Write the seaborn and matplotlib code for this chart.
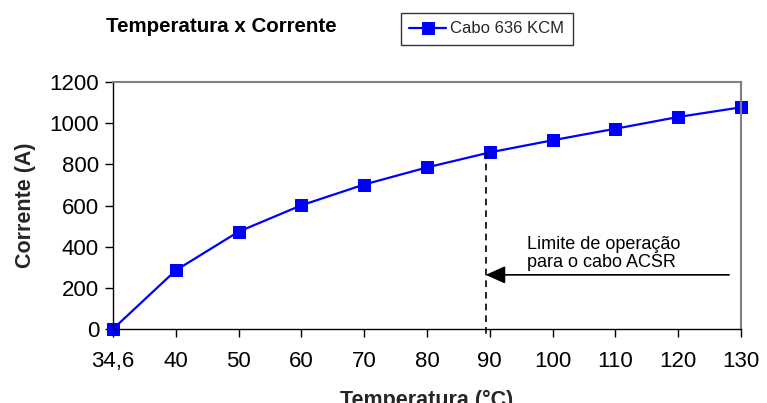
import numpy as np
import pandas as pd
import matplotlib
matplotlib.use("Agg")
import matplotlib.pyplot as plt
import seaborn as sns

temps = ["34,6", "40", "50", "60", "70", "80", "90", "100", "110", "120", "130"]
currents = [0, 285, 473, 601, 702, 785, 858, 917, 973, 1030, 1077]
series_name = "Cabo 636 KCM"
limit_temp = "90"
limit_current_label = 263

sns.set_theme(style="white")
plt.rcParams['font.family'] = ['Liberation Sans', 'DejaVu Sans']

fig = plt.figure(figsize=(7.67, 4.03), dpi=100)
ax = fig.add_axes([113/767, 1-329/403, (741-113)/767, (329-82)/403])

df = pd.DataFrame({"pos": np.arange(len(temps)), "corrente": currents})
sns.lineplot(data=df, x="pos", y="corrente", ax=ax, color="#0000FF", linewidth=1.6,
             marker="s", markersize=8.5, markeredgecolor="#0000FF",
             label=series_name, clip_on=False)

ax.set_xlim(0, len(temps) - 1)
ax.set_ylim(0, 1200)
ax.set_xticks(np.arange(len(temps)))
ax.set_xticklabels(temps)
ax.set_yticks(np.arange(0, 1201, 200))
ax.tick_params(axis="both", which="both", direction="out", length=6, width=1,
               color="black", labelsize=16, labelcolor="black", bottom=True, left=True)
ax.tick_params(axis="x", pad=10)
ax.tick_params(axis="y", pad=4)
for s in ["left", "bottom"]:
    ax.spines[s].set_color("black")
    ax.spines[s].set_linewidth(1.0)
for s in ["top", "right"]:
    ax.spines[s].set_color("#808080")
    ax.spines[s].set_linewidth(1.5)

ax.set_xlabel("Temperatura (°C)", fontsize=15.5, fontweight="bold", labelpad=13)
ax.set_ylabel("Corrente (A)", fontsize=15.5, fontweight="bold", labelpad=10)

# operating limit annotation
i90 = temps.index(limit_temp)
xl = i90 - 0.065
ax.plot([xl, xl], [currents[i90], -35], color="black", linestyle=(0, (4, 3)),
        linewidth=1.2, clip_on=False)
ax.annotate("", xy=(xl, limit_current_label), xytext=(9.81, limit_current_label),
            arrowprops=dict(arrowstyle="-|>,head_length=1.0,head_width=0.45",
                            color="black", lw=1.2, mutation_scale=12,
                            shrinkA=0, shrinkB=0))
ax.text(6.59, 300, "Limite de operação\npara o cabo ACSR", fontsize=13,
        ha="left", va="baseline", color="black", linespacing=1.1)

fig.text(221/767, 1-27/403, "Temperatura x Corrente", fontsize=14.8, fontweight="bold",
         ha="center", va="center", color="black")

ax.get_legend().remove()
handles, labels = ax.get_legend_handles_labels()
leg = fig.legend(handles, labels, loc="upper left", bbox_to_anchor=(401/767, 1-13/403),
                 borderaxespad=0, frameon=True, fancybox=False, fontsize=12,
                 handlelength=2.2, handletextpad=0.25, borderpad=0.5)
leg.get_frame().set_edgecolor("black")
leg.get_frame().set_linewidth(1.0)

fig.savefig("out.png", dpi=100)
